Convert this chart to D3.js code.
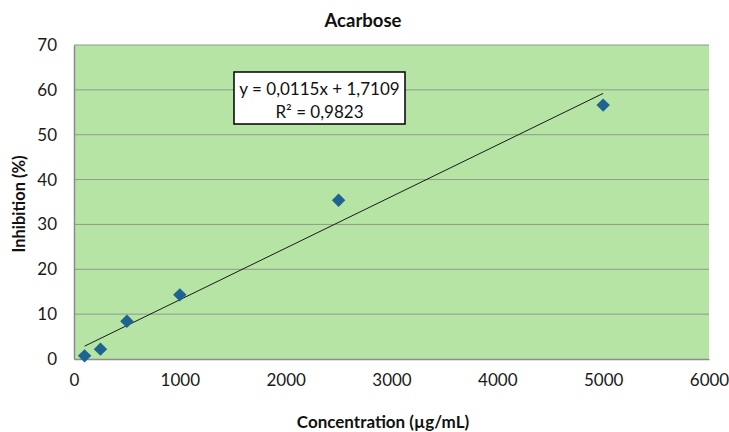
<!DOCTYPE html>
<html>
<head>
<meta charset="utf-8">
<script src="https://cdn.jsdelivr.net/npm/d3@7"></script>
<style>
  html, body { margin: 0; padding: 0; background: #ffffff; }
  svg text { font-family: Lato, "Open Sans", sans-serif; }
</style>
</head>
<body>
<svg id="chart" width="729" height="432"></svg>
<script>
// Measured inhibition of the enzyme by acarbose at each concentration
const concentrations = [100, 250, 500, 1000, 2500, 5000];
const inhibition = [0.7, 2.2, 8.4, 14.3, 35.4, 56.6];

// Linear trendline coefficients and fit quality
const slope = 0.0115;
const intercept = 1.7109;
const rSquared = 0.9823;

const xTicks = [0, 1000, 2000, 3000, 4000, 5000, 6000];
const yTicks = [0, 10, 20, 30, 40, 50, 60, 70];

const svg = d3.select("#chart");
const plot = { left: 74, right: 709, top: 45, bottom: 359 };

const x = d3.scaleLinear().domain([0, 6000]).range([plot.left, plot.right]);
const y = d3.scaleLinear().domain([0, 70]).range([plot.bottom, plot.top]);

// Plot area background
svg.append("rect")
  .attr("x", plot.left).attr("y", plot.top)
  .attr("width", plot.right - plot.left).attr("height", plot.bottom - plot.top)
  .attr("fill", "#b5e4a4");

// Horizontal gridlines
svg.append("g").selectAll("line")
  .data(yTicks.slice(1))
  .join("line")
  .attr("x1", plot.left).attr("x2", plot.right)
  .attr("y1", d => y(d)).attr("y2", d => y(d))
  .attr("stroke", "#8e9a8a").attr("stroke-width", 1);

// Axes
const xAxis = svg.append("g")
  .attr("transform", `translate(0,${plot.bottom})`)
  .call(d3.axisBottom(x).tickValues(xTicks).tickSize(0).tickPadding(15).tickFormat(d3.format("d")));
xAxis.select(".domain").attr("stroke", "#8c8c8c").attr("stroke-width", 1.5);
xAxis.selectAll("text").attr("font-size", 17).attr("fill", "#1a1a1a");

const yAxis = svg.append("g")
  .attr("transform", `translate(${plot.left},0)`)
  .call(d3.axisLeft(y).tickValues(yTicks).tickSize(0).tickPadding(17).tickFormat(d3.format("d")));
yAxis.select(".domain").attr("stroke", "#8c8c8c").attr("stroke-width", 1.5);
yAxis.selectAll("text").attr("font-size", 17).attr("fill", "#1a1a1a");

// Trendline over the measured range
const xMin = d3.min(concentrations), xMax = d3.max(concentrations);
svg.append("line")
  .attr("x1", x(xMin)).attr("y1", y(slope * xMin + intercept))
  .attr("x2", x(xMax)).attr("y2", y(slope * xMax + intercept))
  .attr("stroke", "#1a1a1a").attr("stroke-width", 1);

// Diamond markers
const diamond = d3.symbol().type(d3.symbolSquare).size(90);
svg.append("g").selectAll("path")
  .data(concentrations.map((c, i) => ({ c, v: inhibition[i] })))
  .join("path")
  .attr("d", diamond)
  .attr("transform", d => `translate(${x(d.c)},${y(d.v)}) rotate(45)`)
  .attr("fill", "#1f6391");

// Equation label box
const fmt = v => String(v).replace(".", ",");
const box = svg.append("g");
box.append("rect")
  .attr("x", 234).attr("y", 72).attr("width", 171).attr("height", 52)
  .attr("fill", "#ffffff").attr("stroke", "#000").attr("stroke-width", 1.5);
box.append("text")
  .attr("x", 319.5).attr("y", 95).attr("text-anchor", "middle")
  .attr("font-size", 17).attr("fill", "#111")
  .text(`y = ${fmt(slope)}x + ${fmt(intercept)}`);
box.append("text")
  .attr("x", 319.5).attr("y", 118).attr("text-anchor", "middle")
  .attr("font-size", 17).attr("fill", "#111")
  .text(`R² = ${fmt(rSquared)}`);

// Titles
svg.append("text")
  .attr("x", 363).attr("y", 27).attr("text-anchor", "middle")
  .attr("font-size", 18.5).attr("font-weight", "bold").attr("fill", "#111")
  .text("Acarbose");

svg.append("text")
  .attr("x", 383).attr("y", 428).attr("text-anchor", "middle")
  .attr("font-size", 17).attr("font-weight", "bold").attr("fill", "#111")
  .text("Concentration (µg/mL)");

svg.append("text")
  .attr("transform", `translate(25,${(plot.top + plot.bottom) / 2 + 2}) rotate(-90)`)
  .attr("text-anchor", "middle")
  .attr("font-size", 16.5).attr("font-weight", "bold").attr("fill", "#111")
  .text("Inhibition (%)");
</script>
</body>
</html>
